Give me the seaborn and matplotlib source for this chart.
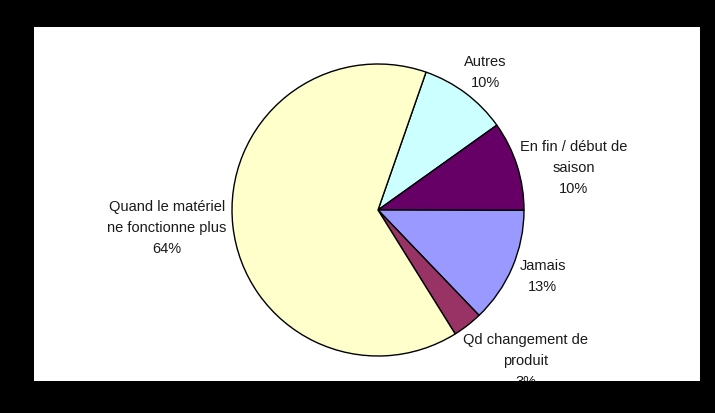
import matplotlib
matplotlib.use("Agg")
import matplotlib.pyplot as plt
import seaborn as sns

# ---- data ----
categories = ["Autres", "En fin / début de\nsaison", "Jamais",
              "Qd changement de\nproduit", "Quand le matériel\nne fonctionne plus"]
values = [9.8, 9.9, 12.8, 3.3, 64.2]
colors = ["#CCFFFF", "#660066", "#9999FF", "#993366", "#FFFFCC"]

# ---- layout (pixel coordinates, origin bottom-left) ----
W, H = 715, 413
white_box = (34, 27, 700, 381)          # left, top, right, bottom (from top)
pie_center = (378, H - 210)
pie_radius = 146
start_angle = 70.8
label_xy = [(485.6, H - 72.5), (573.6, H - 168), (542.6, H - 276.5),
            (525.8, H - 361), (167, H - 228)]

sns.set_theme(style="white")
plt.rcParams["font.family"] = ["Liberation Sans", "DejaVu Sans"]

fig = plt.figure(figsize=(W / 100, H / 100), dpi=100, facecolor="black")
l, t, r, b = white_box
ax = fig.add_axes([l / W, (H - b) / H, (r - l) / W, (b - t) / H])
ax.set_facecolor("white")
ax.add_patch(plt.Rectangle((l, H - b), r - l, b - t, facecolor="white",
                           edgecolor="none", zorder=0))

wedges, _ = ax.pie(values, colors=sns.color_palette(colors), startangle=start_angle,
                   counterclock=False, center=pie_center, radius=pie_radius,
                   wedgeprops=dict(edgecolor="black", linewidth=1.0),
                   frame=True)
ax.set_xlim(l, r)
ax.set_ylim(H - b, H - t)
ax.set_aspect("equal", adjustable="box")
ax.axis("off")

for cat, val, (x, y) in zip(categories, values, label_xy):
    txt = ax.text(x, y, f"{cat}\n{round(val):d}%", ha="center", va="center",
                  fontsize=10.5, color="#1a1a1a", linespacing=1.6)
    txt.set_clip_box(ax.bbox)
    txt.set_clip_on(True)

fig.savefig("out.png", dpi=100, facecolor="black")
